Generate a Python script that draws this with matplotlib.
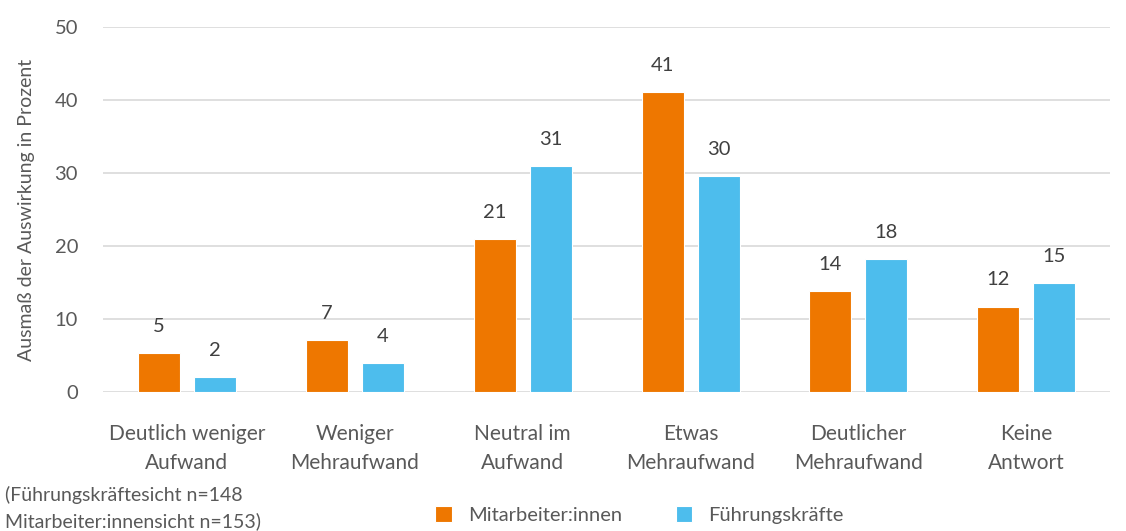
# Grouped bar chart: Ausmaß der Auswirkung in Prozent

import numpy as np
import matplotlib.pyplot as plt

# Data
categories = ['Deutlich weniger\nAufwand', 'Weniger\nMehraufwand', 'Neutral im\nAufwand',
              'Etwas\nMehraufwand', 'Deutlicher\nMehraufwand', 'Keine\nAntwort']
mitarbeiter = [5.3, 7.1, 20.9, 41.1, 13.8, 11.7]
fuehrung = [2.1, 3.9, 31.0, 29.6, 18.2, 14.9]
series_names = ['Mitarbeiter:innen', 'Führungskräfte']
note = '(Führungskräftesicht n=148\nMitarbeiter:innensicht n=153)'

orange = '#EE7700'
blue = '#4DBDED'
grey = '#595959'

plt.rcParams['font.family'] = ['Lato', 'DejaVu Sans']

fig = plt.figure(figsize=(11.26, 5.31), dpi=100)
ax = fig.add_axes([0.0915, 0.262, 0.8945, 0.687])

x = np.arange(len(categories))
w = 0.25
off = 0.167
b1 = ax.bar(x - off, mitarbeiter, w, color=orange, edgecolor='white', linewidth=0.8,
            label=series_names[0], zorder=3)
b2 = ax.bar(x + off, fuehrung, w, color=blue, edgecolor='white', linewidth=0.8,
            label=series_names[1], zorder=3)

for bars, vals in [(b1, mitarbeiter), (b2, fuehrung)]:
    for rect, v in zip(bars, vals):
        ax.annotate(f'{round(v):d}', (rect.get_x() + rect.get_width() / 2, v),
                    xytext=(0, 13), textcoords='offset points', ha='center', va='bottom',
                    fontsize=14.5, color='#404040')

ax.set_xlim(-0.5, len(categories) - 0.5)
ax.set_ylim(0, 50)
ax.set_yticks(range(0, 51, 10))
ax.set_xticks(x)
ax.set_xticklabels(categories, fontsize=15, color=grey, linespacing=1.55)
ax.tick_params(axis='y', labelsize=14.5, labelcolor=grey, length=0, pad=18)
ax.tick_params(axis='x', length=0, pad=23)
ax.grid(axis='y', color='#D9D9D9', linewidth=1.2, zorder=0)
for s in ax.spines.values():
    s.set_visible(False)
ax.set_ylabel('Ausmaß der Auswirkung in Prozent', fontsize=14, color=grey, labelpad=14)

fig.text(0.004, 0.002, note, fontsize=14, color=grey, ha='left', va='bottom', linespacing=1.55)
fig.legend(handles=[b1, b2], loc='center', bbox_to_anchor=(0.568, 0.03), ncol=2, frameon=False,
           fontsize=14.5, labelcolor=grey, handlelength=0.8, handleheight=0.8, columnspacing=2.7)

fig.savefig('out.png', dpi=100)
